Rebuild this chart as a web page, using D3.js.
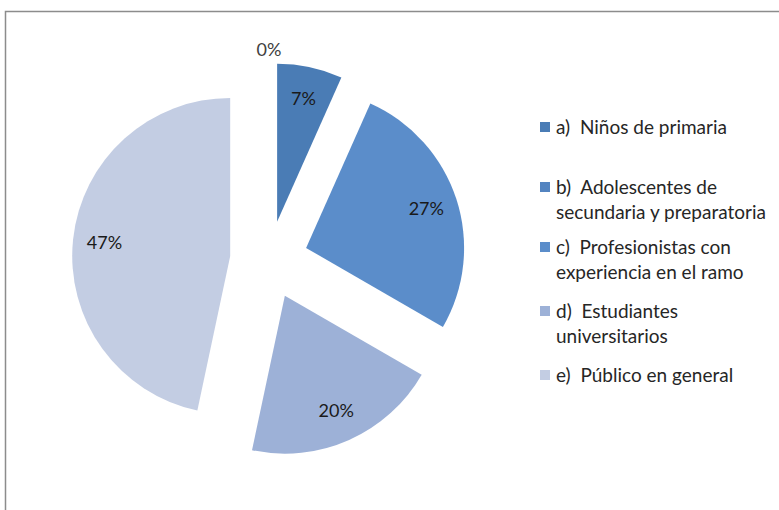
<!DOCTYPE html>
<html>
<head>
<meta charset="utf-8">
<script src="https://cdn.jsdelivr.net/npm/d3@7"></script>
<style>
  body { margin: 0; background: #fff; }
  svg { display: block; font-family: Lato, "Open Sans", sans-serif; }
  text { white-space: pre; }
</style>
</head>
<body>
<div id="chart"></div>
<script>
// respondents per group (15 total)
var legendLines = [["a)  Niños de primaria"],
                   ["b)  Adolescentes de", "secundaria y preparatoria"],
                   ["c)  Profesionistas con", "experiencia en el ramo"],
                   ["d)  Estudiantes", "universitarios"],
                   ["e)  Público en general"]];
var counts = [1, 0, 4, 3, 7];
var colors = ["#4a7cb5", "#5384c0", "#5b8dca", "#9db1d7", "#c3cde3"];

var width = 779, height = 510;
var cx = 269, cy = 260, radius = 158, explode = 39;

var svg = d3.select("#chart").append("svg")
    .attr("width", width)
    .attr("height", height);

// chart frame
svg.append("path")
    .attr("d", "M5.5," + height + "V11.5H" + width)
    .attr("fill", "none")
    .attr("stroke", "#8c8c8c")
    .attr("stroke-width", 1.5);

var total = d3.sum(counts);
var pct = d3.format(".0%");

var pie = d3.pie().sort(null)(counts);
var arc = d3.arc().innerRadius(0).outerRadius(radius);

function offset(d, dist) {
    var a = (d.startAngle + d.endAngle) / 2;
    return [Math.sin(a) * dist, -Math.cos(a) * dist];
}

var g = svg.append("g").attr("transform", "translate(" + cx + "," + cy + ")");

var slices = g.selectAll(".slice")
    .data(pie)
    .enter().append("g")
    .attr("class", "slice")
    .attr("transform", function(d) {
        var o = offset(d, explode);
        return "translate(" + o[0] + "," + o[1] + ")";
    });

slices.append("path")
    .attr("d", arc)
    .attr("fill", function(d, i) { return colors[i]; });

slices.append("text")
    .attr("transform", function(d) {
        var p;
        if (d.value === 0) {
            // empty slice: label sits outside, just above the top
            var a = d.startAngle - 0.51;
            p = [Math.sin(a) * radius * 1.11, -Math.cos(a) * radius * 1.11];
        } else {
            p = offset(d, radius * 0.8);
        }
        return "translate(" + p[0] + "," + p[1] + ")";
    })
    .attr("text-anchor", "middle")
    .attr("dy", "0.35em")
    .attr("font-size", 18)
    .attr("fill", function(d) { return d.value === 0 ? "#404040" : "#1a1a1a"; })
    .text(function(d) { return pct(d.value / total); });

// legend
var legendY = [127, 187, 247, 311, 375];
var legend = svg.append("g").attr("class", "legend");

var items = legend.selectAll(".item")
    .data(legendLines)
    .enter().append("g")
    .attr("class", "item")
    .attr("transform", function(d, i) { return "translate(540," + legendY[i] + ")"; });

items.append("rect")
    .attr("x", 0).attr("y", -5)
    .attr("width", 10).attr("height", 10)
    .attr("fill", function(d, i) { return colors[i]; });

items.append("text")
    .attr("font-size", 19)
    .attr("fill", "#262626")
    .selectAll("tspan")
    .data(function(d) { return d; })
    .enter().append("tspan")
    .attr("x", 16)
    .attr("y", function(d, j) { return j * 25; })
    .attr("dy", "0.35em")
    .text(function(d) { return d; });
</script>
</body>
</html>
